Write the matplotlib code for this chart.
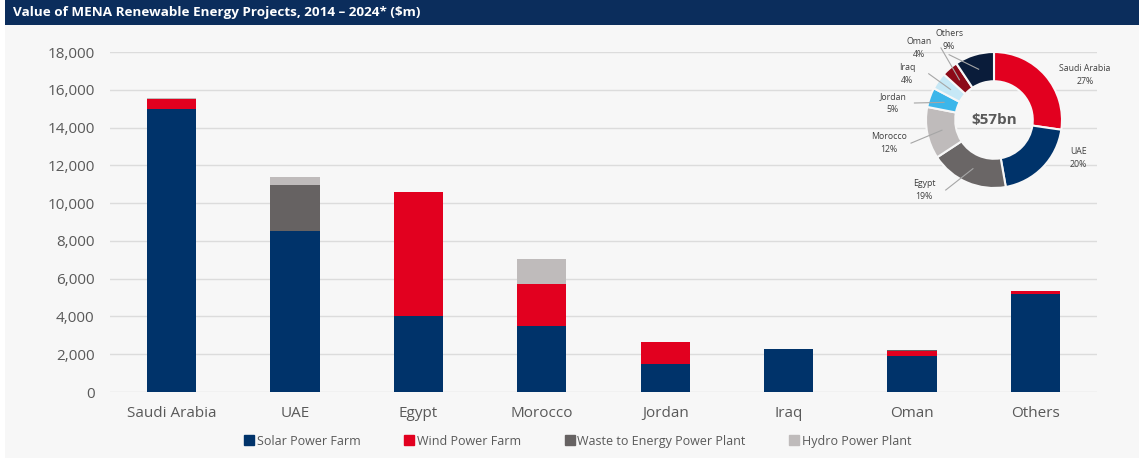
import matplotlib
matplotlib.use("Agg")
import matplotlib.pyplot as plt
from matplotlib.patches import Rectangle
from matplotlib.lines import Line2D
import numpy as np

plt.rcParams['font.family'] = ['Open Sans', 'DejaVu Sans']

countries = ['Saudi Arabia', 'UAE', 'Egypt', 'Morocco', 'Jordan', 'Iraq', 'Oman', 'Others']
solar = [15000, 8500, 4050, 3500, 1500, 2280, 1930, 5170]
wind = [530, 0, 6520, 2220, 1150, 0, 240, 160]
waste = [0, 2470, 0, 0, 0, 0, 50, 0]
hydro = [30, 400, 0, 1300, 0, 20, 0, 0]
series_names = ['Solar Power Farm', 'Wind Power Farm', 'Waste to Energy Power Plant', 'Hydro Power Plant']
series_colors = ['#00336a', '#e2001f', '#666262', '#bfbbbb']

pie_colors = ['#e2001f', '#00336a', '#6a6666', '#bfbbbb', '#3cb6ea', '#c6e8f6', '#8c0a18', '#0a1c3a']
pie_label_pos = [(1.34, 0.66), (1.24, -0.56), (-1.03, -1.03), (-1.54, -0.34),
                 (-1.49, 0.25), (-1.28, 0.68), (-1.10, 1.06), (-0.66, 1.18)]

W, H = 1139, 461
fig = plt.figure(figsize=(W / 100, H / 100), dpi=100, facecolor='white')

# panel background and title bar
fig.patches.append(Rectangle((5 / W, 3 / H), 1 - 5 / W, 1 - 28 / H, transform=fig.transFigure,
                             facecolor='#f7f7f7', edgecolor='none', zorder=-10))
fig.patches.append(Rectangle((5 / W, 1 - 25 / H), 1 - 5 / W, 25 / H, transform=fig.transFigure,
                             facecolor='#0b2d5c', edgecolor='none', zorder=-5))
fig.text(13 / W, 1 - 12.5 / H, 'Value of MENA Renewable Energy Projects, 2014 \u2013 2024* ($m)',
         color='white', fontsize=9.7, fontweight='bold', va='center', ha='left')

ax = fig.add_axes([110 / W, 1 - 392 / H, 987 / W, 340 / H])
ax.set_facecolor('none')
x = np.arange(len(countries))
bottom = np.zeros(len(countries))
for vals, name, col in zip([solar, wind, waste, hydro], series_names, series_colors):
    ax.bar(x, vals, width=0.4, bottom=bottom, color=col, label=name, zorder=3)
    bottom += np.array(vals)

ax.set_xlim(-0.5, len(countries) - 0.5)
ax.set_ylim(0, 18000)
ax.set_yticks(np.arange(0, 18001, 2000))
ax.set_yticklabels([f'{v:,}' for v in range(0, 18001, 2000)])
ax.set_xticks(x)
ax.set_xticklabels(countries)
ax.tick_params(axis='both', length=0, labelcolor='#595959', labelsize=11)
ax.tick_params(axis='y', pad=11)
ax.tick_params(axis='x', pad=10)
ax.grid(axis='y', color='#dcdcdc', linewidth=1, zorder=0)
for s in ax.spines.values():
    s.set_visible(False)

handles = [Line2D([], [], marker='s', linestyle='none', markersize=7, color=c) for c in series_colors]
fig.legend(handles, series_names, loc='center', bbox_to_anchor=(577 / W, 1 - 441 / H), ncol=4,
           frameon=False, fontsize=9, labelcolor='#595959', handletextpad=0.1,
           columnspacing=3.4, handlelength=1)

# donut
cx, cy, r = 994, 120, 68
pax = fig.add_axes([(cx - 150) / W, 1 - (cy + 100) / H, 300 / W, 200 / H])
pax.set_facecolor('none')
totals = bottom
wedges, _ = pax.pie(totals, colors=pie_colors, startangle=90, counterclock=False, radius=1,
                    wedgeprops=dict(width=0.43, edgecolor='#f7f7f7', linewidth=1.5))
pax.set_xlim(-150 / r, 150 / r)
pax.set_ylim(-100 / r, 100 / r)
pax.set_aspect('auto')
pax.axis('off')
pct = totals / totals.sum() * 100
for w, name, p, (lx, ly) in zip(wedges, countries, pct, pie_label_pos):
    pax.text(lx, ly, f'{name}\n{p:.0f}%', ha='center', va='center', fontsize=6.3, color='#404040',
             linespacing=1.5)
    if name not in ('Saudi Arabia', 'UAE'):
        ang = np.deg2rad((w.theta1 + w.theta2) / 2)
        px, py = 0.78 * np.cos(ang), 0.78 * np.sin(ang)
        if name == 'Others':
            sx, sy = lx, ly - 0.22
        else:
            sx, sy = lx + 0.32, ly
        pax.plot([sx, px], [sy, py], color='#a6a6a6', linewidth=0.8)
pax.text(0, 0, '$57bn', ha='center', va='center', fontsize=11, fontweight='bold', color='#595959')

fig.savefig('out.png', dpi=100, facecolor=fig.get_facecolor())
